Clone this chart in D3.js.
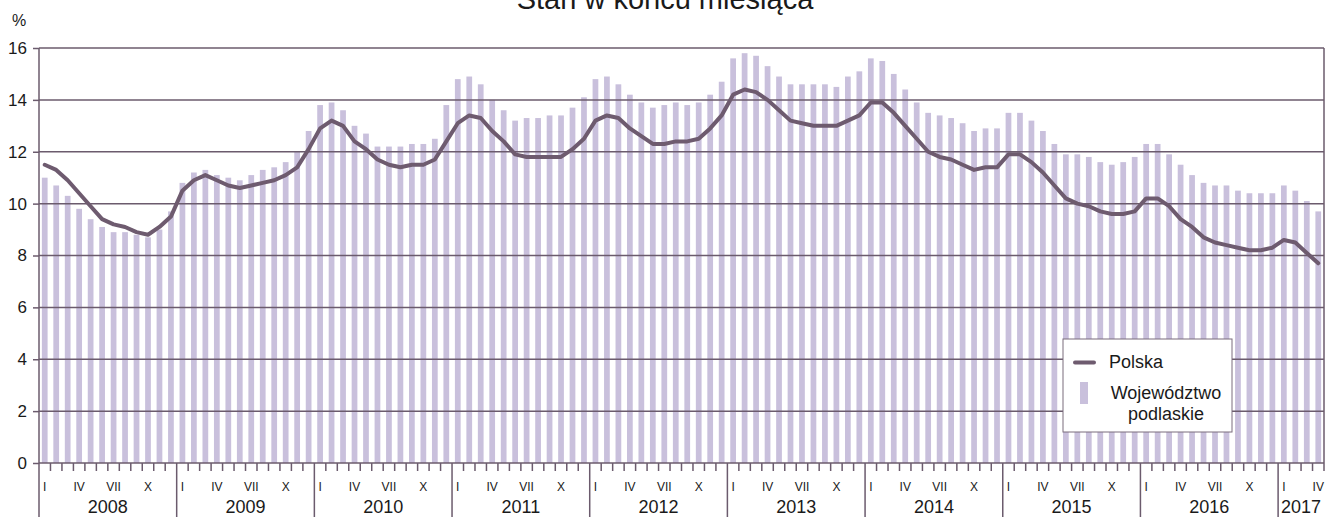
<!DOCTYPE html>
<html>
<head>
<meta charset="utf-8">
<script src="https://cdn.jsdelivr.net/npm/d3@7"></script>
<style>
  body { margin: 0; background: #fff; }
  svg { display: block; font-family: "Liberation Sans", Arial, sans-serif; }
</style>
</head>
<body>
<script>
// stopa bezrobocia, stan w koncu miesiaca, I 2008 - IV 2017
var years = ['2008', '2009', '2010', '2011', '2012', '2013', '2014', '2015', '2016', '2017'];
var monthNames = ['I', '', '', 'IV', '', '', 'VII', '', '', 'X', '', ''];
var yTicks = [0, 2, 4, 6, 8, 10, 12, 14, 16];

var podlaskie = [
  11.0, 10.7, 10.3, 9.8, 9.4, 9.1, 8.9, 8.9, 8.8, 8.7, 9.0, 9.7,
  10.8, 11.2, 11.3, 11.1, 11.0, 10.9, 11.1, 11.3, 11.4, 11.6, 12.0, 12.8,
  13.8, 13.9, 13.6, 13.0, 12.7, 12.2, 12.2, 12.2, 12.3, 12.3, 12.5, 13.8,
  14.8, 14.9, 14.6, 14.0, 13.6, 13.2, 13.3, 13.3, 13.4, 13.4, 13.7, 14.1,
  14.8, 14.9, 14.6, 14.2, 13.9, 13.7, 13.8, 13.9, 13.8, 13.9, 14.2, 14.7,
  15.6, 15.8, 15.7, 15.3, 14.9, 14.6, 14.6, 14.6, 14.6, 14.5, 14.9, 15.1,
  15.6, 15.5, 15.0, 14.4, 13.9, 13.5, 13.4, 13.3, 13.1, 12.8, 12.9, 12.9,
  13.5, 13.5, 13.2, 12.8, 12.3, 11.9, 11.9, 11.8, 11.6, 11.5, 11.6, 11.8,
  12.3, 12.3, 11.9, 11.5, 11.1, 10.8, 10.7, 10.7, 10.5, 10.4, 10.4, 10.4,
  10.7, 10.5, 10.1, 9.7
];

var polska = [
  11.5, 11.3, 10.9, 10.4, 9.9, 9.4, 9.2, 9.1, 8.9, 8.8, 9.1, 9.5,
  10.5, 10.9, 11.1, 10.9, 10.7, 10.6, 10.7, 10.8, 10.9, 11.1, 11.4, 12.1,
  12.9, 13.2, 13.0, 12.4, 12.1, 11.7, 11.5, 11.4, 11.5, 11.5, 11.7, 12.4,
  13.1, 13.4, 13.3, 12.8, 12.4, 11.9, 11.8, 11.8, 11.8, 11.8, 12.1, 12.5,
  13.2, 13.4, 13.3, 12.9, 12.6, 12.3, 12.3, 12.4, 12.4, 12.5, 12.9, 13.4,
  14.2, 14.4, 14.3, 14.0, 13.6, 13.2, 13.1, 13.0, 13.0, 13.0, 13.2, 13.4,
  13.9, 13.9, 13.5, 13.0, 12.5, 12.0, 11.8, 11.7, 11.5, 11.3, 11.4, 11.4,
  11.9, 11.9, 11.6, 11.2, 10.7, 10.2, 10.0, 9.9, 9.7, 9.6, 9.6, 9.7,
  10.2, 10.2, 9.9, 9.4, 9.1, 8.7, 8.5, 8.4, 8.3, 8.2, 8.2, 8.3,
  8.6, 8.5, 8.1, 7.7
];

function drawChart() {
  var width = 1326, height = 517;
  var plotLeft = 39, plotRight = 1324, plotTop = 48, plotBottom = 463;
  var gridColor = '#6b5b6d', barColor = '#c9c0dc', lineColor = '#6e5b6f';

  var svg = d3.select('body').append('svg').attr('width', width).attr('height', height);

  var idx = d3.range(polska.length);
  var x = d3.scaleBand().domain(idx).range([plotLeft, plotRight]).paddingInner(0.5).paddingOuter(0.25);
  var step = x.step();
  var y = d3.scaleLinear().domain([0, 16]).range([plotBottom, plotTop]);

  // slupki - wojewodztwo podlaskie
  svg.append('g').selectAll('rect').data(podlaskie).enter().append('rect')
    .attr('x', function(d, i) { return x(i); })
    .attr('y', function(d) { return y(d); })
    .attr('width', x.bandwidth())
    .attr('height', function(d) { return y(0) - y(d); })
    .attr('fill', barColor);

  // os Y z siatka
  var yAxis = svg.append('g').attr('transform', 'translate(' + plotLeft + ',0)')
    .call(d3.axisLeft(y).tickValues(yTicks).tickSize(6).tickPadding(6));
  yAxis.select('.domain').remove();
  yAxis.selectAll('line').attr('stroke', gridColor).attr('stroke-width', 1.5);
  yAxis.selectAll('text').attr('font-size', 17).attr('fill', '#1a1a1a')
    .attr('font-family', '"Liberation Sans", Arial, sans-serif');

  svg.append('g').selectAll('line').data(yTicks).enter().append('line')
    .attr('x1', plotLeft).attr('x2', plotRight)
    .attr('y1', function(d) { return y(d); }).attr('y2', function(d) { return y(d); })
    .attr('stroke', gridColor).attr('stroke-width', 1.5);

  // ramka
  svg.append('line').attr('x1', plotLeft).attr('x2', plotLeft).attr('y1', plotTop).attr('y2', height)
    .attr('stroke', gridColor).attr('stroke-width', 1.5);
  svg.append('line').attr('x1', plotRight).attr('x2', plotRight).attr('y1', plotTop).attr('y2', plotBottom)
    .attr('stroke', gridColor).attr('stroke-width', 1.5);

  // os X: miesiace i lata
  var xg = svg.append('g');
  idx.forEach(function(i) {
    var bx = plotLeft + i * step;
    var isYear = i % 12 === 0;
    if (i > 0) {
      xg.append('line').attr('x1', bx).attr('x2', bx)
        .attr('y1', plotBottom).attr('y2', isYear ? height : plotBottom + 8)
        .attr('stroke', gridColor).attr('stroke-width', 1.5);
    }
    var lab = monthNames[i % 12];
    if (lab) {
      xg.append('text').attr('x', bx + step / 2).attr('y', 491)
        .attr('text-anchor', 'middle').attr('font-size', 12).attr('fill', '#1a1a1a').text(lab);
    }
  });
  xg.append('line').attr('x1', plotRight).attr('x2', plotRight).attr('y1', plotBottom).attr('y2', plotBottom + 8)
    .attr('stroke', gridColor).attr('stroke-width', 1.5);

  years.forEach(function(yr, k) {
    var n = Math.min(12, polska.length - k * 12);
    var cx = plotLeft + (k * 12 + n / 2) * step;
    xg.append('text').attr('x', cx).attr('y', 513)
      .attr('text-anchor', 'middle').attr('font-size', 18).attr('fill', '#1a1a1a').text(yr);
  });

  // linia - Polska
  var line = d3.line()
    .x(function(d, i) { return x(i) + x.bandwidth() / 2; })
    .y(function(d) { return y(d); });
  svg.append('path').datum(polska).attr('d', line)
    .attr('fill', 'none').attr('stroke', lineColor).attr('stroke-width', 4)
    .attr('stroke-linejoin', 'round').attr('stroke-linecap', 'round');

  // opisy
  svg.append('text').attr('x', 665).attr('y', 9).attr('text-anchor', 'middle')
    .attr('font-size', 29).attr('fill', '#1a1a1a').text('Stan w końcu miesiąca');
  svg.append('text').attr('x', 12).attr('y', 26).attr('font-size', 16).attr('fill', '#1a1a1a').text('%');

  // legenda
  var lg = svg.append('g');
  lg.append('rect').attr('x', 1063).attr('y', 339).attr('width', 169).attr('height', 93)
    .attr('fill', '#fff').attr('stroke', '#7a6c7c').attr('stroke-width', 1);
  lg.append('line').attr('x1', 1075).attr('x2', 1094).attr('y1', 362.5).attr('y2', 362.5)
    .attr('stroke', lineColor).attr('stroke-width', 4).attr('stroke-linecap', 'round');
  lg.append('text').attr('x', 1109).attr('y', 368).attr('font-size', 18).attr('fill', '#1a1a1a').text('Polska');
  lg.append('rect').attr('x', 1080).attr('y', 382).attr('width', 8).attr('height', 22).attr('fill', barColor);
  lg.append('text').attr('x', 1166).attr('y', 399).attr('text-anchor', 'middle')
    .attr('font-size', 18).attr('fill', '#1a1a1a').text('Województwo');
  lg.append('text').attr('x', 1166).attr('y', 420).attr('text-anchor', 'middle')
    .attr('font-size', 18).attr('fill', '#1a1a1a').text('podlaskie');
}

drawChart();
</script>
</body>
</html>
